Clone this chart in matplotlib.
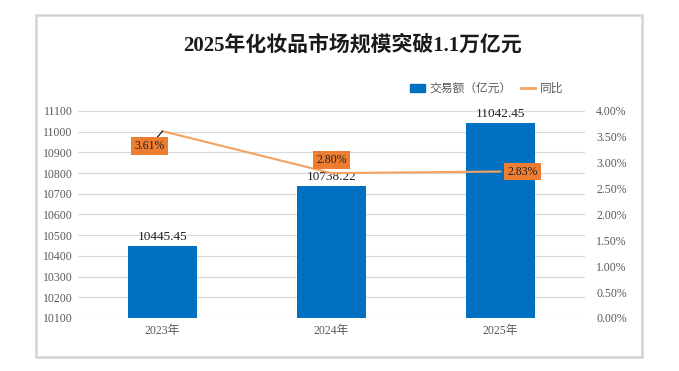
import matplotlib.pyplot as plt
from matplotlib.patches import Rectangle, Patch
from matplotlib.lines import Line2D
from matplotlib.ticker import FuncFormatter, MultipleLocator

plt.rcParams['font.family'] = ['Liberation Serif', 'Noto Sans CJK SC', 'DejaVu Sans']

years = ["2023年", "2024年", "2025年"]
amount = [10445.45, 10738.22, 11042.45]
growth = [3.61, 2.80, 2.83]

bar_color = "#0070C0"
line_color = "#F4A25E"
box_color = "#ED7D31"
grey = "#595959"

fig = plt.figure(figsize=(6.79, 3.71), dpi=100)

# outer frame
fig.patches.append(Rectangle((36/679, 1-357/371), 606/679, 342/371, transform=fig.transFigure,
                             fill=False, edgecolor="#d4d4d4", lw=1.8))

ax = fig.add_axes([78/679, 1-318/371, 507/679, 207/371])
x = list(range(len(years)))
ax.bar(x, amount, width=0.41, color=bar_color, zorder=2)
ax.set_ylim(10100, 11100)
ax.set_xlim(-0.5, 2.5)
ax.yaxis.set_major_locator(MultipleLocator(100))
ax.grid(axis='y', color="#d9d9d9", lw=0.9, zorder=0)
ax.set_xticks(x)
ax.set_xticklabels(years)
for s in ax.spines.values():
    s.set_visible(False)
ax.tick_params(length=0, labelsize=8.5, colors=grey, pad=4)
ax.tick_params(axis='x', pad=5)

for xi, v in zip(x, amount):
    ax.annotate(f"{v:.2f}", (xi, v), xytext=(0, 3), textcoords='offset pixels',
                ha='center', va='bottom', fontsize=9.5, color="#222222")

ax2 = ax.twinx()
ax2.plot(x, growth, color=line_color, lw=1.5, zorder=3)
ax2.set_ylim(0, 4)
ax2.yaxis.set_major_locator(MultipleLocator(0.5))
ax2.yaxis.set_major_formatter(FuncFormatter(lambda v, p: f"{v:.2f}%"))
for s in ax2.spines.values():
    s.set_visible(False)
ax2.tick_params(length=0, labelsize=8.5, colors=grey, pad=8)

box = dict(boxstyle="square,pad=0.25", fc=box_color, ec="none")
offsets = [(-13, -15), (0, 13), (22, 0)]
for i, (xi, g) in enumerate(zip(x, growth)):
    kw = {}
    if i == 0:
        kw = dict(arrowprops=dict(arrowstyle="-", color="black", lw=0.8, shrinkA=0, shrinkB=0))
    ax2.annotate(f"{g:.2f}%", (xi, g), xytext=offsets[i], textcoords='offset pixels',
                 ha='center', va='center', fontsize=8.5, color="#222222", bbox=box, zorder=5, **kw)

handles = [Patch(color=bar_color), Line2D([], [], color=line_color, lw=2)]
fig.legend(handles, ["交易额（亿元）", "同比"], loc='center right',
           bbox_to_anchor=(574/679, 1-89/371), ncol=2, frameon=False, fontsize=8.5,
           labelcolor=grey, handlelength=1.2, handleheight=0.7, handletextpad=0.4,
           columnspacing=0.8)

fig.text(353/679, 1-45/371, "2025年化妆品市场规模突破1.1万亿元", ha='center', va='center',
         fontsize=15, fontweight='bold', color="#1a1a1a")

fig.savefig("out.png", dpi=100)
